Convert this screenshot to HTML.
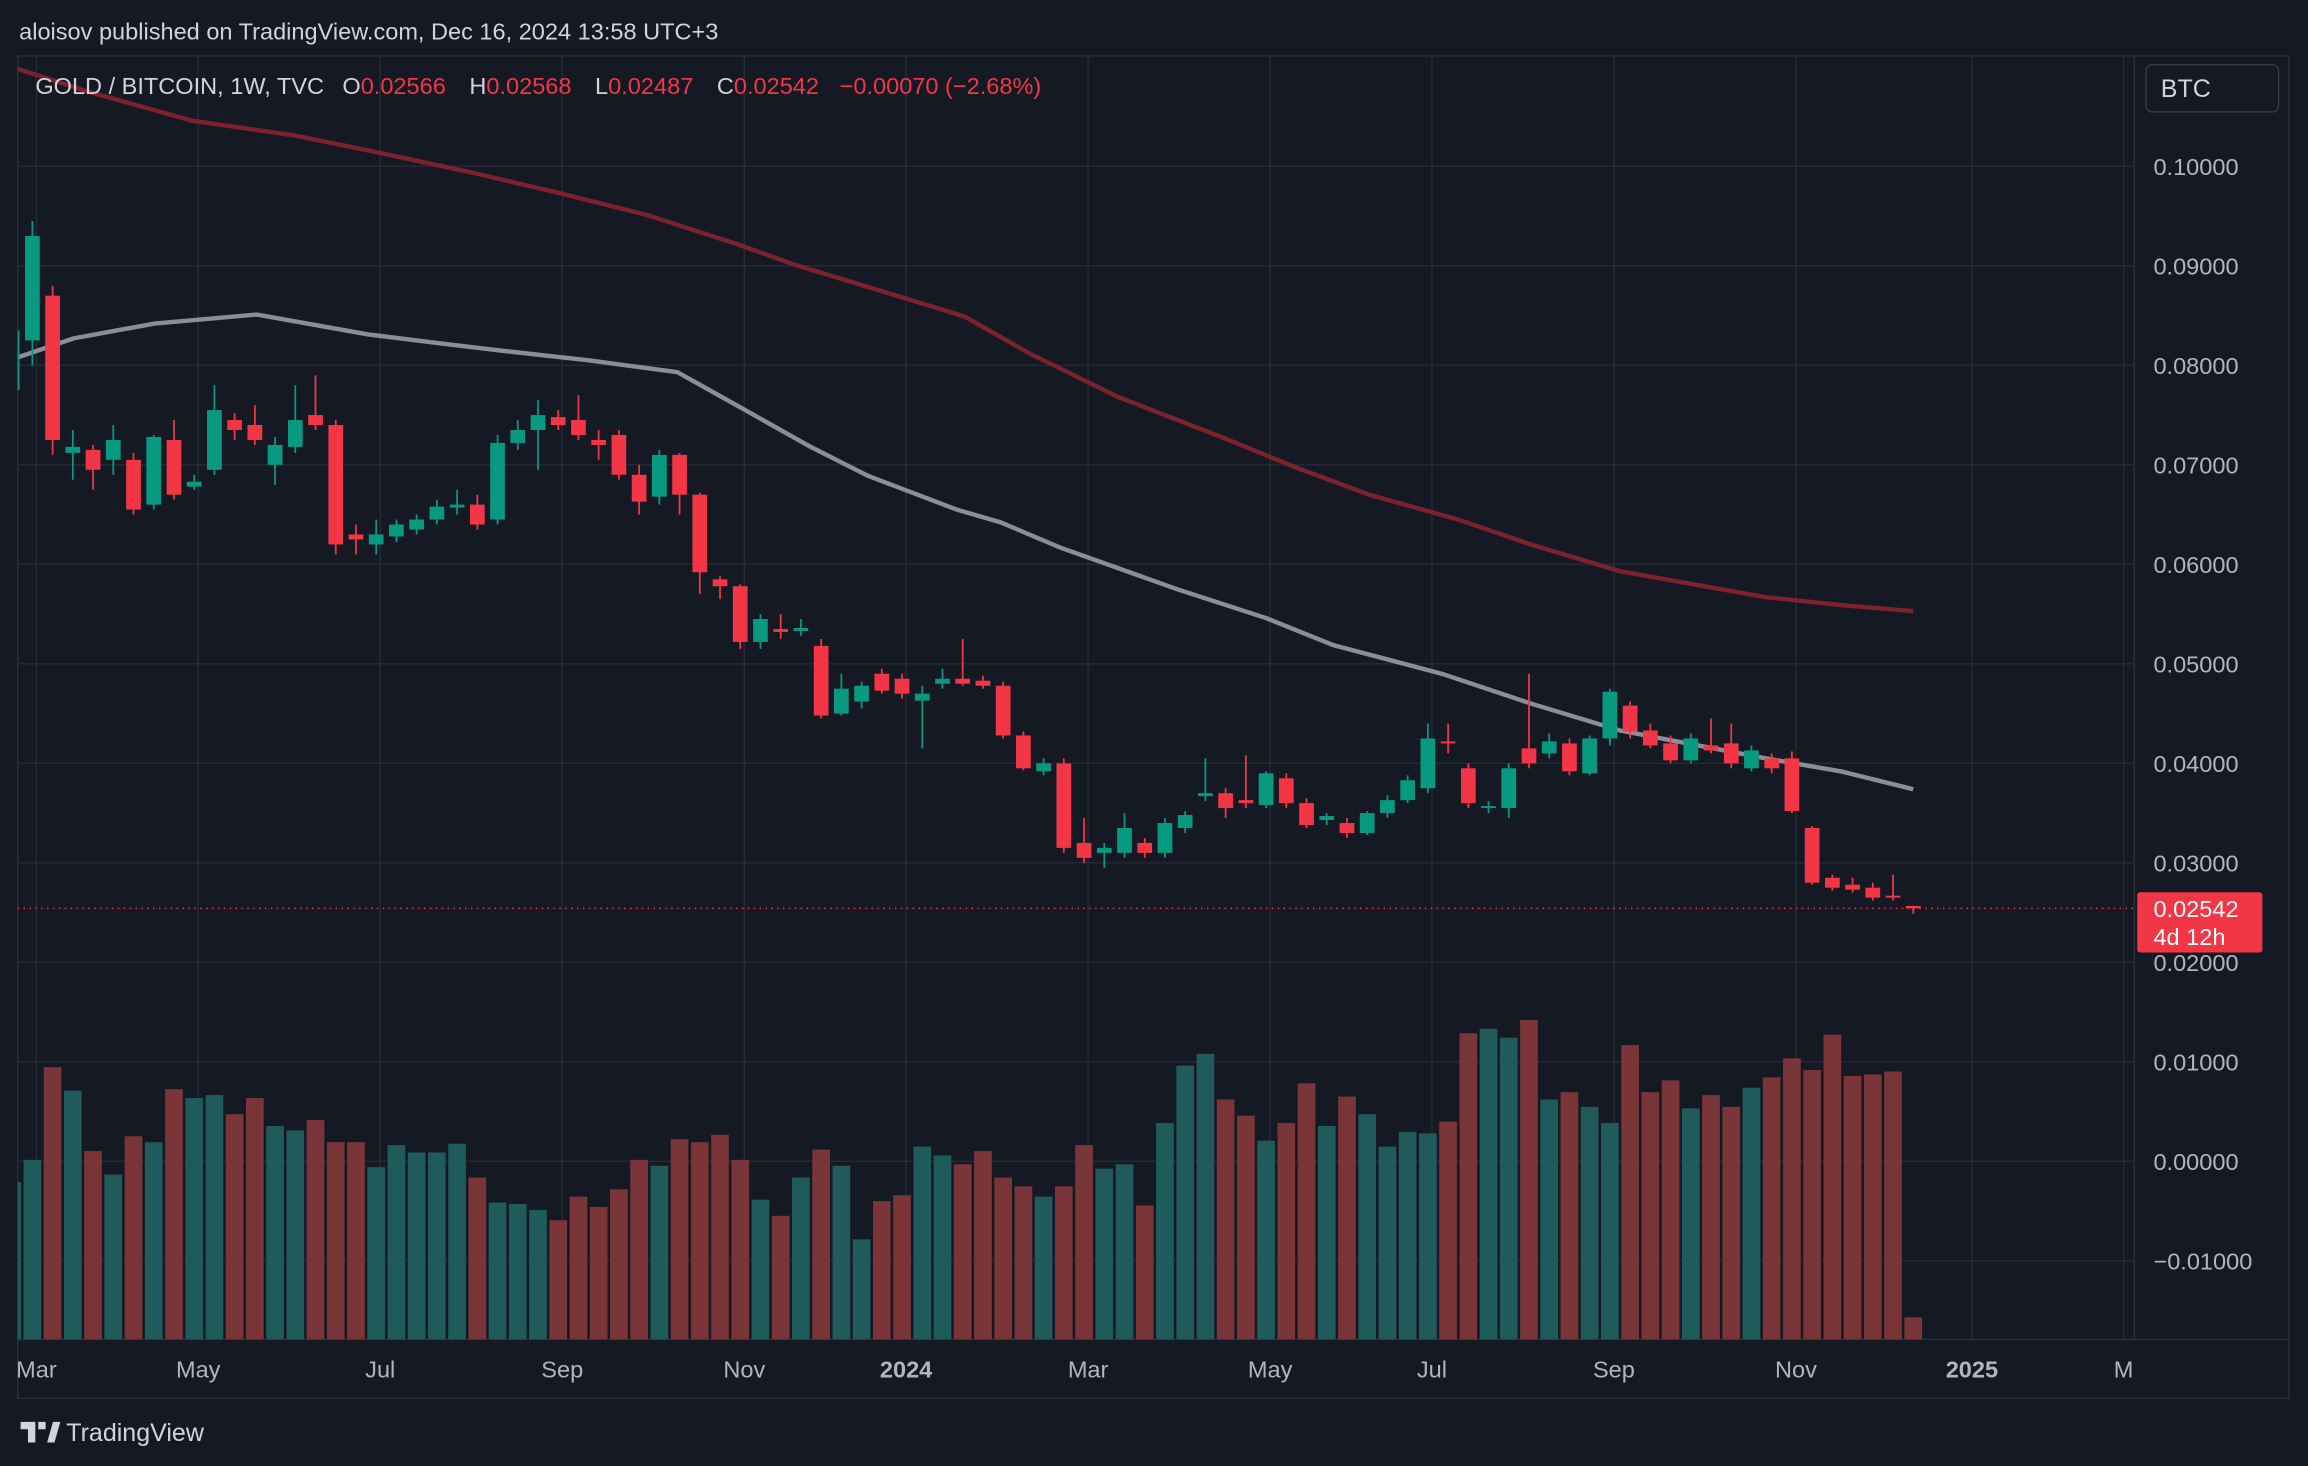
<!DOCTYPE html>
<html><head><meta charset="utf-8">
<style>
html,body{margin:0;padding:0;background:#151924;}
svg{display:block;}
text{font-family:"Liberation Sans",sans-serif;}
</style></head>
<body>
<svg id="chart" width="2308" height="1466" viewBox="0 0 1568 996" preserveAspectRatio="none" xmlns="http://www.w3.org/2000/svg">
  <defs><clipPath id="plotclip"><rect x="12" y="38" width="1438" height="872"/></clipPath></defs>
  <rect x="0" y="0" width="1568" height="996" fill="#151924"/>
  <text x="13" y="27" font-size="16" fill="#d1d4dc">aloisov published on TradingView.com, Dec 16, 2024 13:58 UTC+3</text>
  <rect x="12" y="38" width="1543" height="912" fill="none" stroke="#2a2e39" stroke-width="1"/>
  <line x1="1450" y1="38" x2="1450" y2="910" stroke="#2a2e39"/>
  <line x1="12" y1="910" x2="1555" y2="910" stroke="#2a2e39"/>
  <g id="grid"></g>
  <g clip-path="url(#plotclip)">
    <g id="volume"></g>
    <g id="mas"></g>
    <g id="candles"></g>
  </g>
  <g id="axis"></g>
  <g id="taxis"></g>
  <text x="24" y="64" font-size="16" fill="#d1d4dc">GOLD / BITCOIN, 1W, TVC <tspan dx="8">O</tspan><tspan fill="#f23645">0.02566</tspan><tspan dx="16">H</tspan><tspan fill="#f23645">0.02568</tspan><tspan dx="16">L</tspan><tspan fill="#f23645">0.02487</tspan><tspan dx="16">C</tspan><tspan fill="#f23645">0.02542</tspan><tspan dx="14" fill="#f23645">−0.00070 (−2.68%)</tspan></text>
  <g>
    <rect x="1458" y="44" width="90" height="32" rx="4" fill="#151924" stroke="#363a45"/>
    <text x="1468" y="66" font-size="17" fill="#d1d4dc">BTC</text>
  </g>
  <g>
    <path d="M14 966h10v14h-5v-9h-5z M26 966h5v5h-5z M32 980l4-14h5l-4 14z" fill="#d1d4dc"/>
    <text x="45" y="979" font-size="17" fill="#d1d4dc">TradingView</text>
  </g>
</svg>
<script>
const opens=[.0775,.0825,.0870,.0712,.0715,.0705,.0705,.0660,.0725,.0678,.0695,.0745,.0740,.0700,.0718,.0750,.0740,.0630,.0620,.0628,.0635,.0645,.0657,.0660,.0645,.0722,.0735,.0748,.0745,.0725,.0730,.0690,.0668,.0710,.0670,.0585,.0578,.0522,.0535,.0533,.0518,.0450,.0462,.0490,.0485,.0463,.0480,.0485,.0483,.0478,.0428,.0392,.0400,.0320,.0310,.0310,.0320,.0310,.0335,.0367,.0370,.0363,.0358,.0385,.0360,.0343,.0340,.0330,.0350,.0363,.0375,.0422,.0395,.0355,.0355,.0415,.0410,.0420,.0390,.0425,.0458,.0433,.0420,.0403,.0418,.0420,.0395,.0405,.0405,.0335,.0285,.0278,.0275,.0267,.02566];
const highs=[.0840,.0945,.0880,.0735,.0720,.0740,.0712,.0730,.0745,.0690,.0780,.0752,.0760,.0728,.0780,.0790,.0745,.0640,.0645,.0645,.0650,.0665,.0675,.0670,.0730,.0745,.0765,.0755,.0770,.0735,.0735,.0700,.0715,.0712,.0672,.0588,.0580,.0550,.0550,.0545,.0525,.0490,.0482,.0495,.0490,.0478,.0495,.0525,.0488,.0482,.0432,.0405,.0405,.0345,.0320,.0350,.0325,.0345,.0352,.0405,.0375,.0408,.0392,.0390,.0365,.0350,.0345,.0352,.0368,.0388,.0440,.0440,.0400,.0362,.0400,.0490,.0430,.0425,.0428,.0475,.0462,.0440,.0428,.0430,.0445,.0440,.0418,.0410,.0412,.0337,.0288,.0285,.0280,.0288,.02568];
const lows=[.0770,.0800,.0710,.0685,.0675,.0690,.0650,.0655,.0665,.0675,.0690,.0725,.0720,.0680,.0712,.0735,.0610,.0610,.0610,.0622,.0630,.0640,.0650,.0635,.0640,.0715,.0695,.0735,.0725,.0705,.0685,.0650,.0660,.0650,.0570,.0565,.0515,.0515,.0525,.0528,.0445,.0448,.0455,.0470,.0465,.0415,.0475,.0478,.0475,.0425,.0393,.0388,.0310,.0300,.0295,.0305,.0305,.0305,.0330,.0362,.0345,.0355,.0355,.0355,.0335,.0338,.0325,.0328,.0345,.0360,.0370,.0410,.0355,.0350,.0345,.0395,.0405,.0388,.0388,.0418,.0425,.0415,.0400,.0400,.0410,.0395,.0392,.0390,.0350,.0278,.0272,.0270,.0262,.0262,.02487];
const closes=[.0835,.0930,.0725,.0718,.0695,.0725,.0655,.0728,.0670,.0683,.0755,.0735,.0725,.0720,.0745,.0740,.0620,.0625,.0630,.0640,.0645,.0658,.0660,.0640,.0722,.0735,.0750,.0740,.0730,.0720,.0690,.0663,.0710,.0670,.0592,.0578,.0522,.0545,.0532,.0536,.0448,.0475,.0478,.0473,.0470,.0470,.0485,.0480,.0478,.0428,.0395,.0400,.0315,.0305,.0315,.0335,.0310,.0340,.0348,.0370,.0355,.0360,.0390,.0360,.0338,.0347,.0330,.0350,.0363,.0383,.0425,.0420,.0360,.0357,.0395,.0400,.0422,.0392,.0425,.0472,.0432,.0418,.0403,.0425,.0413,.0400,.0413,.0395,.0352,.0280,.0275,.0273,.0265,.0265,.02542];
const volumes=[107,122,185,169,128,112,138,134,170,164,166,153,164,145,142,149,134,134,117,132,127,127,133,110,93,92,88,81,97,90,102,122,118,136,134,139,122,95,84,110,129,118,68,94,98,131,125,119,128,110,104,97,104,132,116,119,91,147,186,194,163,152,135,147,174,145,165,153,131,141,140,148,208,211,205,217,163,168,158,147,200,168,176,157,166,158,171,178,191,183,207,179,180,182,15];
const grayMaIdx=[0.27,3.04,7.04,12.1,17.6,21.2,24.1,28.5,32.9,35.8,39.4,42.3,46.7,48.9,51.8,57.6,62,65.3,70.7,75.1,79.5,83.1,86.7,90.4,94];
const grayMaVal=[.0808,.0827,.0842,.0851,.0831,.0822,.0815,.0805,.0793,.0760,.0719,.0689,.0655,.0642,.0617,.0575,.0546,.0519,.0490,.0460,.0433,.0419,.0405,.0392,.0374];
const redMaIdx=[0.27,3.77,8.86,13.95,17.6,22.7,27.1,31.4,35.8,38.7,43.1,47.1,50.3,54.7,59.8,63.4,67.1,71.5,75.1,79.5,83.1,86.7,90.4,94];
const redMaVal=[.1098,.1075,.1046,.1031,.1016,.0994,.0973,.0951,.0922,.0901,.0874,.0849,.0812,.0768,.0728,.0698,.0670,.0645,.0620,.0593,.0580,.0567,.0559,.0553];
const priceTicks=[0.10,0.09,0.08,0.07,0.06,0.05,0.04,0.03,0.02,0.01,0.00,-0.01];
const priceTickLabels=["0.10000","0.09000","0.08000","0.07000","0.06000","0.05000","0.04000","0.03000","0.02000","0.01000","0.00000","−0.01000"];
const timeLabels=["Mar","May","Jul","Sep","Nov","2024","Mar","May","Jul","Sep","Nov","2025","M"];
const timeLabelIdx=[1.2,9.2,18.2,27.2,36.2,44.2,53.2,62.2,70.2,79.2,88.2,96.9,104.4];
const lastPrice=0.02542;

const NS="http://www.w3.org/2000/svg";
const X0=22-13.74, DX=13.74;
function xs(i){return X0+i*DX;}
function ys(p){return 113+(0.10-p)*6760;}
const VOLBASE=910, VOLMAX=250, VOLH=250;
function yv(v){return VOLBASE-v/VOLMAX*VOLH;}
function mk(tag,attrs,parent){const e=document.createElementNS(NS,tag);for(const k in attrs)e.setAttribute(k,attrs[k]);parent.appendChild(e);return e;}

const grid=document.getElementById('grid');
priceTicks.forEach((p,k)=>{
  const l=mk('line',{x1:12,x2:1450,y1:ys(p),y2:ys(p),stroke:'#262a36','stroke-width':1},grid);
  
  
});
timeLabelIdx.forEach(i=>{
  const l=mk('line',{x1:xs(i),x2:xs(i),y1:38,y2:910,stroke:'#262a36','stroke-width':1},grid);
  
  
});

const vol=document.getElementById('volume');
volumes.forEach((v,i)=>{
  const up=closes[i]>=opens[i];
  const r=mk('rect',{x:xs(i)-6,y:yv(v),width:12,height:VOLBASE-yv(v),fill:up?'#1f5b5a':'#7a3539'},vol);
  
  
});

const mas=document.getElementById('mas');
function line(idx,val,color,name){
  const pts=idx.map((i,k)=>xs(i).toFixed(1)+','+ys(val[k]).toFixed(1)).join(' ');
  const pl=mk('polyline',{points:pts,fill:'none',stroke:color,'stroke-width':3,'stroke-linejoin':'round'},mas);
  
  
}
line(redMaIdx,redMaVal,'#7c222c','slow-moving-average');
line(grayMaIdx,grayMaVal,'#8b8e99','fast-moving-average');

const dl=mk('line',{x1:12,x2:1450,y1:ys(lastPrice),y2:ys(lastPrice),stroke:'#f23645','stroke-width':1,'stroke-dasharray':'1 3'},mas);



const cg=document.getElementById('candles');
opens.forEach((o,i)=>{
  const c=closes[i],up=c>=o,col=up?'#089981':'#f23645';
  const g=mk('g',{},cg);
  
  
  mk('line',{x1:xs(i),x2:xs(i),y1:ys(highs[i]),y2:ys(lows[i]),stroke:col,'stroke-width':1.2},g);
  const top=ys(Math.max(o,c)),bot=ys(Math.min(o,c));
  mk('rect',{x:xs(i)-5,y:top,width:10,height:Math.max(1.2,bot-top),fill:col},g);
});

const ax=document.getElementById('axis');
priceTicks.forEach((p,k)=>{
  const t=mk('text',{x:1463,y:ys(p)+6,'font-size':16,fill:'#b2b5be'},ax);
  t.textContent=priceTickLabels[k];
  
  
});
const lp=mk('g',{},ax);


mk('rect',{x:1452,y:ys(lastPrice)-11,width:85,height:41,rx:2,fill:'#f23645'},lp);
const t1=mk('text',{x:1463,y:ys(lastPrice)+6,'font-size':16,fill:'#ffffff'},lp);t1.textContent=lastPrice.toFixed(5);
const t2=mk('text',{x:1463,y:ys(lastPrice)+25,'font-size':16,fill:'#ffffff'},lp);t2.textContent='4d 12h';

const ta=document.getElementById('taxis');
timeLabels.forEach((s,k)=>{
  const bold=(s==='2024'||s==='2025');
  const t=mk('text',{x:xs(timeLabelIdx[k]),y:936,'font-size':16,fill:'#b2b5be','text-anchor':'middle','font-weight':bold?'bold':'normal'},ta);
  t.textContent=s;
  
  
});
</script>
</body></html>
